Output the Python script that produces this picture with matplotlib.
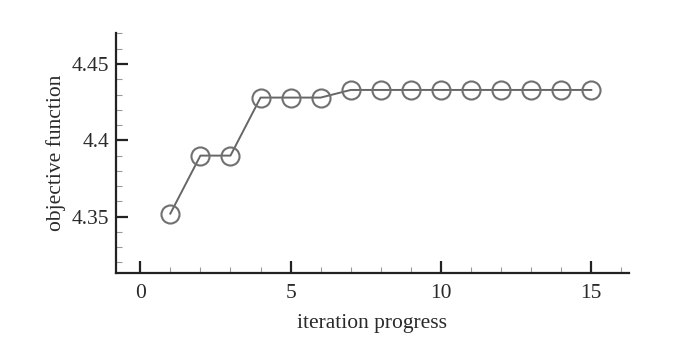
import matplotlib
matplotlib.use("Agg")
import matplotlib.pyplot as plt
from matplotlib.ticker import MultipleLocator, FixedLocator, FixedFormatter

iterations = [1, 2, 3, 4, 5, 6, 7, 8, 9, 10, 11, 12, 13, 14, 15]
objective = [4.352, 4.390, 4.390, 4.428, 4.428, 4.428, 4.433, 4.433,
             4.433, 4.433, 4.433, 4.433, 4.433, 4.433, 4.433]

x_ticks = [0, 5, 10, 15]
y_ticks = [4.35, 4.40, 4.45]
y_tick_labels = ["4.35", "4.4", "4.45"]

plt.rcParams["font.family"] = ["Liberation Serif", "DejaVu Serif"]

fig = plt.figure(figsize=(7.0, 3.51), dpi=100)
ax = fig.add_axes([0.166, 0.223, 0.732, 0.683])

ax.plot(iterations, objective, color="#666666", linewidth=1.4,
        marker="o", markersize=13, markerfacecolor="none",
        markeredgecolor="#707070", markeredgewidth=1.5)

ax.set_xlim(-0.8, 16.24)
ax.set_ylim(4.3133, 4.4703)

ax.xaxis.set_major_locator(FixedLocator(x_ticks))
ax.xaxis.set_minor_locator(MultipleLocator(1))
ax.yaxis.set_major_locator(FixedLocator(y_ticks))
ax.yaxis.set_major_formatter(FixedFormatter(y_tick_labels))
ax.yaxis.set_minor_locator(MultipleLocator(0.01))

for side in ["top", "right"]:
    ax.spines[side].set_visible(False)
for side in ["left", "bottom"]:
    ax.spines[side].set_linewidth(1.6)
    ax.spines[side].set_color("#222222")

ax.tick_params(which="major", direction="in", length=8.5, width=1.6,
               color="#222222", labelsize=15.5, labelcolor="#2a2a2a", pad=5)
ax.tick_params(axis="x", which="major", pad=8)
ax.tick_params(which="minor", direction="in", length=4, width=0.8,
               color="#999999")

ax.set_xlabel("iteration progress", fontsize=15.5, color="#2a2a2a", labelpad=8)
ax.set_ylabel("objective function", fontsize=15.5, color="#2a2a2a", labelpad=4)

fig.savefig("out.png", dpi=100, facecolor="white")
